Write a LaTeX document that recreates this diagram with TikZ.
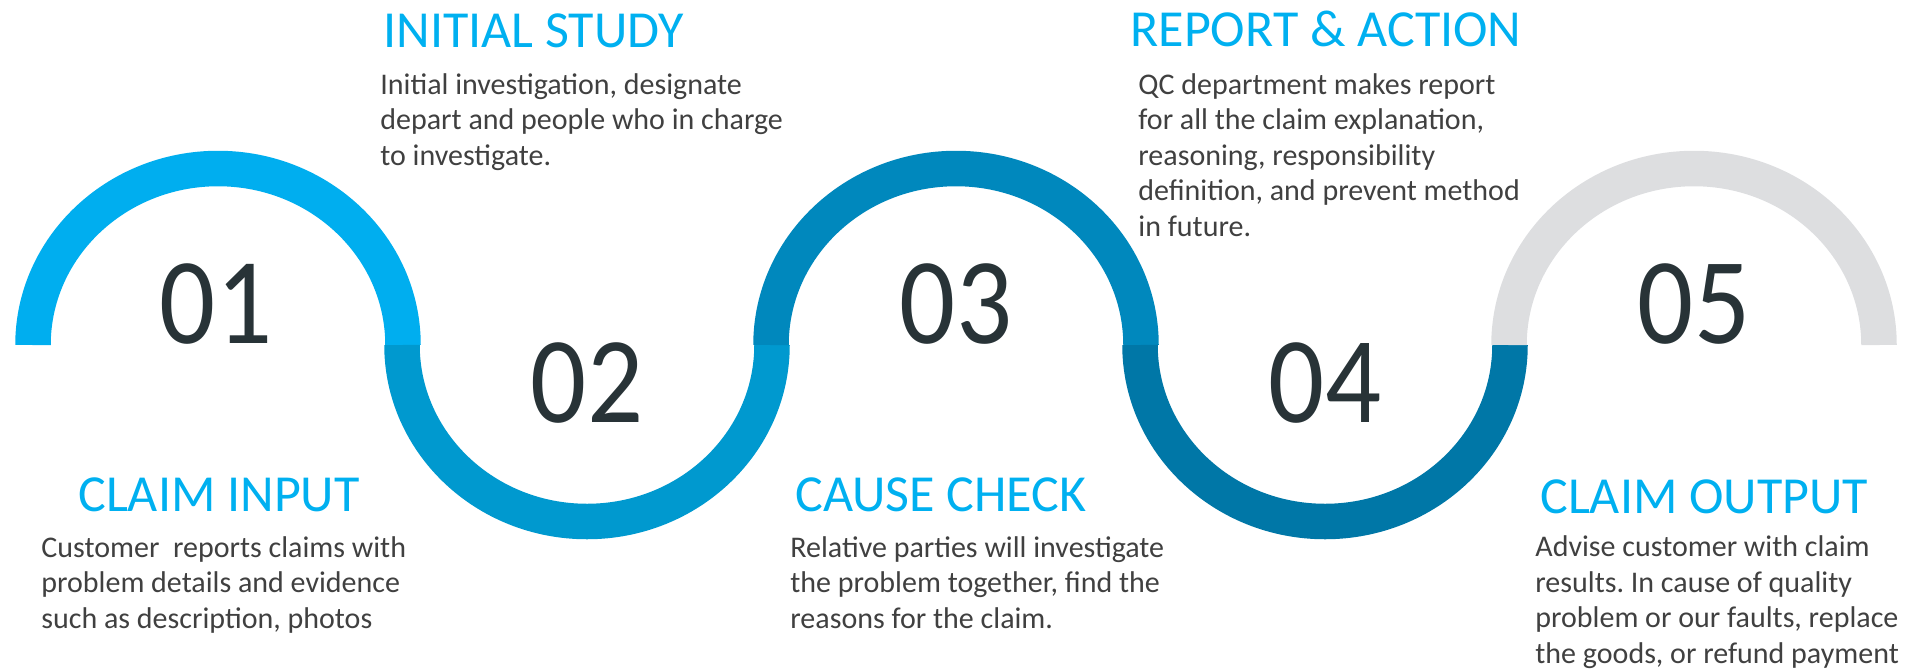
\documentclass[tikz,border=0pt]{standalone}
\usepackage{fontspec}
\setmainfont{Carlito}
\frenchspacing
\definecolor{ringA}{HTML}{00AEEF}
\definecolor{ringB}{HTML}{0099CF}
\definecolor{ringC}{HTML}{0088BD}
\definecolor{ringD}{HTML}{0077A7}
\definecolor{ringE}{HTML}{DDDEE0}
\definecolor{headblue}{HTML}{00B0F0}
\definecolor{textgray}{HTML}{404040}
\definecolor{numgray}{HTML}{283337}
\newcommand{\stepnum}[1]{\scalebox{0.9}[1]{#1}}

\begin{document}
\begin{tikzpicture}[x=0.5pt, y=-0.5pt,
    ring/.style={line width=17.75pt},
    title/.style={anchor=base west, inner sep=0pt, text=headblue, font=\fontsize{26}{30}\selectfont},
    body/.style={anchor=base west, inner sep=0pt, align=left, text=textgray, font=\fontsize{15}{17.75}\selectfont},
    num/.style={anchor=base, inner sep=0pt, text=numgray, font=\fontsize{61.5}{70}\selectfont}]
    \useasboundingbox (0,0) rectangle (1924,671);

    \coordinate (c1) at (218,345);
    \coordinate (c2) at (587,345);
    \coordinate (c3) at (956,345);
    \coordinate (c4) at (1325,345);
    \coordinate (c5) at (1694,345);

    % the wave
    \draw[ring, ringA] ([xshift=-92.5pt]c1) arc[start angle=180, end angle=0, x radius=92.5pt, y radius=88.25pt];
    \draw[ring, ringB] ([xshift=-92.5pt]c2) arc[start angle=180, end angle=360, x radius=92.5pt, y radius=88.25pt];
    \draw[ring, ringC] ([xshift=-92.5pt]c3) arc[start angle=180, end angle=0, x radius=92.5pt, y radius=88.25pt];
    \draw[ring, ringD] ([xshift=-92.5pt]c4) arc[start angle=180, end angle=360, x radius=92.5pt, y radius=88.25pt];
    \draw[ring, ringE] ([xshift=-92.5pt]c5) arc[start angle=180, end angle=0, x radius=92.5pt, y radius=88.25pt];

    \node[num] (n1) at (216,343) {\stepnum{01}};
    \node[num] (n2) at (587,422) {\stepnum{02}};
    \node[num] (n3) at (956,343) {\stepnum{03}};
    \node[num] (n4) at (1325,422) {\stepnum{04}};
    \node[num] (n5) at (1694,343) {\stepnum{05}};

    % body nodes sit on the baseline of their last line
    \node[title] (t1) at (78,511) {CLAIM INPUT};
    \node[body] (b1) at (41,628) {Customer\ \ reports claims with\\problem details and evidence\\such as description, photos};

    \node[title] (t2) at (383,47) {INITIAL STUDY};
    \node[body] (b2) at (380,165) {Initial investigation, designate\\depart and people who in charge\\to investigate.};

    \node[title] (t3) at (795,511) {CAUSE CHECK};
    \node[body] (b3) at (790,628) {Relative parties will investigate\\the problem together, find the\\reasons for the claim.};

    \node[title] (t4) at (1130,46) {REPORT \& ACTION};
    \node[body] (b4) at (1138,236) {QC department makes report\\for all the claim explanation,\\reasoning, responsibility\\definition, and prevent method\\in future.};

    \node[title] (t5) at (1540,513) {CLAIM OUTPUT};
    \node[body] (b5) at (1535,663) {Advise customer with claim\\results. In cause of quality\\problem or our faults, replace\\the goods, or refund payment};
\end{tikzpicture}
\end{document}
